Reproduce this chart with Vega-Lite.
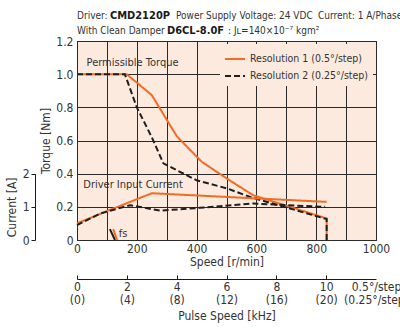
{
  "$schema": "https://vega.github.io/schema/vega-lite/v6.json",
  "width": 299,
  "height": 199,
  "autosize": "none",
  "padding": {"left": 77, "top": 41, "right": 24, "bottom": 87},
  "config": {
    "font": "DejaVu Sans Condensed",
    "view": {"fill": "#fdeadf", "stroke": "#1a1a1a", "strokeWidth": 1},
    "axis": {"labelFont": "DejaVu Sans Condensed", "titleFont": "DejaVu Sans Condensed", "labelFontSize": 12, "titleFontSize": 12, "titleFontWeight": "normal", "labelColor": "#333333", "titleColor": "#333333", "labelOverlap": false, "tickCount": 30},
    "legend": {"labelFont": "DejaVu Sans Condensed", "labelFontSize": 10.5, "labelColor": "#333333"},
    "text": {"font": "DejaVu Sans Condensed", "fill": "#333333"}
  },
  "datasets": {
    "curves": [
      {"kind": "torque", "series": "Resolution 1 (0.5°/step)", "i": 1, "speed": 0, "torque": 1.0},
      {"kind": "torque", "series": "Resolution 1 (0.5°/step)", "i": 2, "speed": 166, "torque": 1.0},
      {"kind": "torque", "series": "Resolution 1 (0.5°/step)", "i": 3, "speed": 250, "torque": 0.874},
      {"kind": "torque", "series": "Resolution 1 (0.5°/step)", "i": 4, "speed": 334, "torque": 0.625},
      {"kind": "torque", "series": "Resolution 1 (0.5°/step)", "i": 5, "speed": 417, "torque": 0.472},
      {"kind": "torque", "series": "Resolution 1 (0.5°/step)", "i": 6, "speed": 500, "torque": 0.372},
      {"kind": "torque", "series": "Resolution 1 (0.5°/step)", "i": 7, "speed": 589, "torque": 0.27},
      {"kind": "torque", "series": "Resolution 1 (0.5°/step)", "i": 8, "speed": 835, "torque": 0.13},
      {"kind": "torque", "series": "Resolution 1 (0.5°/step)", "i": 9, "speed": 835, "torque": 0.0},
      {"kind": "torque", "series": "Resolution 2 (0.25°/step)", "i": 1, "speed": 0, "torque": 1.0},
      {"kind": "torque", "series": "Resolution 2 (0.25°/step)", "i": 2, "speed": 160, "torque": 1.0},
      {"kind": "torque", "series": "Resolution 2 (0.25°/step)", "i": 3, "speed": 200, "torque": 0.8},
      {"kind": "torque", "series": "Resolution 2 (0.25°/step)", "i": 4, "speed": 250, "torque": 0.62},
      {"kind": "torque", "series": "Resolution 2 (0.25°/step)", "i": 5, "speed": 289, "torque": 0.462},
      {"kind": "torque", "series": "Resolution 2 (0.25°/step)", "i": 6, "speed": 400, "torque": 0.36},
      {"kind": "torque", "series": "Resolution 2 (0.25°/step)", "i": 7, "speed": 500, "torque": 0.312},
      {"kind": "torque", "series": "Resolution 2 (0.25°/step)", "i": 8, "speed": 585, "torque": 0.256},
      {"kind": "torque", "series": "Resolution 2 (0.25°/step)", "i": 9, "speed": 835, "torque": 0.126},
      {"kind": "torque", "series": "Resolution 2 (0.25°/step)", "i": 10, "speed": 835, "torque": 0.0}
    ],
    "current": [
      {"series": "Resolution 1 (0.5°/step)", "speed": 0, "amps": 0.5},
      {"series": "Resolution 1 (0.5°/step)", "speed": 100, "amps": 0.87},
      {"series": "Resolution 1 (0.5°/step)", "speed": 250, "amps": 1.41},
      {"series": "Resolution 1 (0.5°/step)", "speed": 835, "amps": 1.15},
      {"series": "Resolution 2 (0.25°/step)", "speed": 0, "amps": 0.45},
      {"series": "Resolution 2 (0.25°/step)", "speed": 78, "amps": 0.8},
      {"series": "Resolution 2 (0.25°/step)", "speed": 177, "amps": 1.05},
      {"series": "Resolution 2 (0.25°/step)", "speed": 278, "amps": 0.885},
      {"series": "Resolution 2 (0.25°/step)", "speed": 411, "amps": 0.97},
      {"series": "Resolution 2 (0.25°/step)", "speed": 589, "amps": 1.1},
      {"series": "Resolution 2 (0.25°/step)", "speed": 701, "amps": 1.05},
      {"series": "Resolution 2 (0.25°/step)", "speed": 830, "amps": 1.0}
    ],
    "fs": [
      {"series": "Resolution 2 (0.25°/step)", "speed": 110, "torque": 0.066},
      {"series": "Resolution 2 (0.25°/step)", "speed": 127, "torque": 0.0},
      {"series": "Resolution 1 (0.5°/step)", "speed": 121, "torque": 0.066},
      {"series": "Resolution 1 (0.5°/step)", "speed": 134, "torque": 0.0}
    ],
    "notes": [
      {"text": "Permissible Torque", "speed": 32, "torque": 1.069},
      {"text": "Driver Input Current", "speed": 21, "torque": 0.332},
      {"text": "fs", "speed": 140, "torque": 0.036}
    ],
    "header": [
      {"text": "Driver:", "weight": "plain", "speed": 0, "torque": 1.353},
      {"text": "CMD2120P", "weight": "bold", "speed": 110, "torque": 1.353},
      {"text": "Power Supply Voltage: 24 VDC", "weight": "plain", "speed": 331, "torque": 1.353},
      {"text": "Current: 1 A/Phase", "weight": "plain", "speed": 806, "torque": 1.353},
      {"text": "With Clean Damper", "weight": "plain", "speed": 0, "torque": 1.26},
      {"text": "D6CL-8.0F", "weight": "bold", "speed": 301, "torque": 1.26},
      {"text": ": Jʟ=140×10⁻⁷ kgm²", "weight": "plain", "speed": 505, "torque": 1.26}
    ],
    "pulse": [{"khz": 0}, {"khz": 12}]
  },
  "layer": [
    {
      "layer": [
        {
          "data": {"name": "curves"},
          "mark": {"type": "line", "strokeWidth": 2},
          "encoding": {
            "x": {"field": "speed", "type": "quantitative", "scale": {"domain": [0, 1000], "nice": false},
              "axis": {"title": "Speed [r/min]", "values": [0, 100, 200, 300, 400, 500, 600, 700, 800, 900, 1000], "tickCount": 30, "labelExpr": "datum.value % 200 == 0 ? format(datum.value, 'd') : ''", "grid": true, "gridColor": "#2a2a2a", "gridOpacity": 1, "gridWidth": 1, "ticks": false, "domain": false, "labelPadding": 3, "titlePadding": 2, "labelFlush": false, "labelOverlap": false}},
            "y": {"field": "torque", "type": "quantitative", "scale": {"domain": [0, 1.2], "nice": false},
              "axis": {"title": "Torque [Nm]", "values": [0, 0.2, 0.4, 0.6, 0.8, 1.0, 1.2], "tickCount": 30, "labelExpr": "datum.value == 0 ? '0' : format(datum.value, '.1f')", "grid": true, "gridColor": "#2a2a2a", "gridOpacity": 1, "gridWidth": 1, "ticks": false, "domain": false, "labelPadding": 4, "titlePadding": 3, "labelFlush": false, "labelOverlap": false}},
            "color": {"field": "series", "type": "nominal", "scale": {"domain": ["Resolution 1 (0.5°/step)", "Resolution 2 (0.25°/step)"], "range": ["#f26b23", "#1e1e1e"]},
              "legend": {"title": null, "orient": "top-right", "offset": 3, "fillColor": "#fdeadf", "padding": 4, "symbolType": "stroke", "symbolSize": 400, "symbolStrokeWidth": 2, "rowPadding": -5, "labelOffset": 4}},
            "strokeDash": {"field": "series", "type": "nominal", "scale": {"domain": ["Resolution 1 (0.5°/step)", "Resolution 2 (0.25°/step)"], "range": [[1, 0], [6, 3]]}, "legend": {"title": null}},
            "order": {"field": "i", "type": "quantitative"}
          }
        },
        {
          "data": {"name": "fs"},
          "mark": {"type": "line", "strokeWidth": 2},
          "encoding": {
            "x": {"field": "speed", "type": "quantitative", "scale": {"domain": [0, 1000], "nice": false}},
            "y": {"field": "torque", "type": "quantitative", "scale": {"domain": [0, 1.2], "nice": false}},
            "color": {"field": "series", "type": "nominal"}
          }
        },
        {
          "data": {"name": "notes"},
          "mark": {"type": "text", "align": "left", "baseline": "middle", "fontSize": 11},
          "encoding": {
            "x": {"field": "speed", "type": "quantitative"},
            "y": {"field": "torque", "type": "quantitative"},
            "text": {"field": "text"}
          }
        },
        {
          "data": {"name": "header"},
          "transform": [{"filter": "datum.weight == 'plain'"}],
          "mark": {"type": "text", "align": "left", "baseline": "middle", "fontSize": 10},
          "encoding": {
            "x": {"field": "speed", "type": "quantitative"},
            "y": {"field": "torque", "type": "quantitative"},
            "text": {"field": "text"}
          }
        },
        {
          "data": {"name": "header"},
          "transform": [{"filter": "datum.weight == 'bold'"}],
          "mark": {"type": "text", "align": "left", "baseline": "middle", "fontSize": 11, "fontWeight": "bold", "fill": "#1a1a1a"},
          "encoding": {
            "x": {"field": "speed", "type": "quantitative"},
            "y": {"field": "torque", "type": "quantitative"},
            "text": {"field": "text"}
          }
        }
      ]
    },
    {
      "data": {"name": "current"},
      "mark": {"type": "line", "strokeWidth": 2},
      "encoding": {
        "x": {"field": "speed", "type": "quantitative", "scale": {"domain": [0, 1000], "nice": false}, "axis": null},
        "y": {"field": "amps", "type": "quantitative", "scale": {"domain": [0, 2], "range": [199, 132.67], "nice": false},
          "axis": {"orient": "left", "offset": 42, "title": "Current [A]", "values": [0, 1, 2], "tickCount": 30, "labelExpr": "format(datum.value, 'd')", "grid": false, "domain": true, "domainColor": "#1a1a1a", "ticks": true, "tickColor": "#1a1a1a", "tickSize": 4, "labelPadding": 2, "titlePadding": 4, "labelFlush": false, "labelOverlap": false}},
        "color": {"field": "series", "type": "nominal"},
        "strokeDash": {"field": "series", "type": "nominal"}
      }
    },
    {
      "data": {"name": "pulse"},
      "mark": {"type": "point", "opacity": 0},
      "encoding": {
        "x": {"field": "khz", "type": "quantitative", "scale": {"domain": [0, 12], "nice": false},
          "axis": {"orient": "bottom", "offset": 39, "title": "Pulse Speed [kHz]", "values": [0, 2, 4, 6, 8, 10, 12], "tickCount": 30, "labelExpr": "datum.value == 12 ? ['0.5°/step', '(0.25°/step)'] : [format(datum.value, 'd'), '(' + format(datum.value * 2, 'd') + ')']", "labelLineHeight": 13, "domain": true, "domainColor": "#1a1a1a", "ticks": true, "tickColor": "#1a1a1a", "tickSize": -4, "tickOpacity": {"condition": {"test": "datum.value == 12", "value": 0}, "value": 1}, "labelPadding": 6, "titlePadding": 5, "grid": false, "labelFlush": false, "labelOverlap": false}}
      }
    }
  ],
  "resolve": {"scale": {"x": "independent", "y": "independent"}}
}
